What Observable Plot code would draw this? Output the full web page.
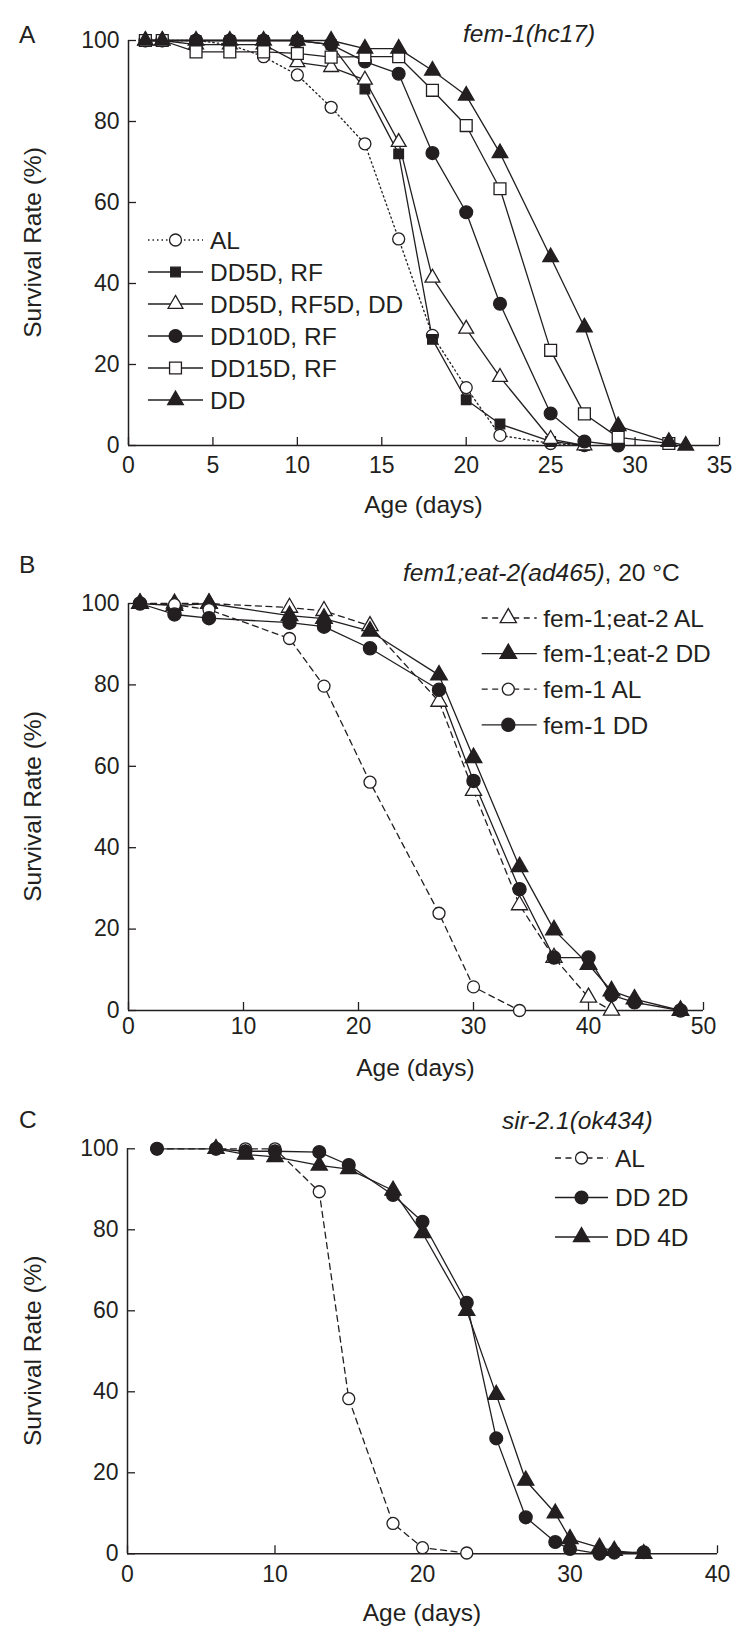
<!DOCTYPE html>
<html><head><meta charset="utf-8">
<script src="https://cdn.jsdelivr.net/npm/d3@7"></script>
<script src="https://cdn.jsdelivr.net/npm/@observablehq/plot@0.6"></script>
<style>
html,body{margin:0;padding:0;background:#fff;}
#root{position:relative;width:750px;height:1644px;overflow:hidden;background:#fff;}
#root svg{position:absolute;left:0;display:block;}
</style></head><body><div id="root"></div>
<script>
// ---------- Panel A: fem-1(hc17) ----------
const A_xTicks = [0, 5, 10, 15, 20, 25, 30, 35];
const A_AL_days = [1, 2, 4, 6, 8, 10, 12, 14, 16, 18, 20, 22, 25, 27];
const A_AL_surv = [100, 100, 100, 99, 96, 91.5, 83.5, 74.5, 51, 27.2, 14.3, 2.5, 0.5, 0];
const A_DD5RF_days = [1, 2, 4, 6, 8, 10, 12, 14, 16, 18, 20, 22, 25, 27];
const A_DD5RF_surv = [100, 100, 100, 100, 100, 100, 99, 88, 72, 26.2, 11.3, 5.3, 1, 0];
const A_DD5RF5DD_days = [1, 2, 4, 6, 8, 10, 12, 14, 16, 18, 20, 22, 25, 27];
const A_DD5RF5DD_surv = [100, 100, 99, 99, 99, 94.6, 93.4, 90.3, 74.9, 41.4, 28.8, 16.9, 1.6, 0];
const A_DD10RF_days = [1, 2, 4, 6, 8, 10, 12, 14, 16, 18, 20, 22, 25, 27, 29];
const A_DD10RF_surv = [100, 100, 100, 100, 100, 100, 99, 94.8, 91.8, 72.2, 57.6, 35, 7.9, 1, 0];
const A_DD15RF_days = [1, 2, 4, 6, 8, 10, 12, 14, 16, 18, 20, 22, 25, 27, 29, 32];
const A_DD15RF_surv = [100, 100, 97.2, 97.2, 97.2, 96.8, 95.9, 96, 96, 87.7, 79, 63.4, 23.5, 7.8, 2, 0.5];
const A_DD_days = [1, 2, 4, 6, 8, 10, 12, 14, 16, 18, 20, 22, 25, 27, 29, 32, 33];
const A_DD_surv = [100, 100, 100, 100, 100, 100, 100, 98, 98, 92.6, 86.4, 72.2, 46.5, 29.2, 4.8, 0.9, 0];

// ---------- Panel B: fem1;eat-2(ad465), 20 °C ----------
const B_xTicks = [0, 10, 20, 30, 40, 50];
const B_eat2AL_days = [1, 4, 7, 14, 17, 21, 27, 30, 34, 37, 40, 42];
const B_eat2AL_surv = [100, 100, 100, 99, 98.2, 94.5, 75.9, 54, 25.9, 13, 3.2, 0];
const B_eat2DD_days = [1, 4, 7, 14, 17, 21, 27, 30, 34, 37, 40, 42, 44, 48];
const B_eat2DD_surv = [100, 99.5, 100, 97, 96.3, 93.2, 82.4, 62.1, 35.3, 19.8, 11.3, 4.8, 2.8, 0];
const B_fem1AL_days = [1, 4, 7, 14, 17, 21, 27, 30, 34];
const B_fem1AL_surv = [100, 99.7, 98.5, 91.4, 79.7, 56.1, 23.9, 5.8, 0];
const B_fem1DD_days = [1, 4, 7, 14, 17, 21, 27, 30, 34, 37, 40, 42, 44, 48];
const B_fem1DD_surv = [100, 97.3, 96.4, 95.3, 94.3, 89, 78.8, 56.4, 29.8, 13, 13, 3.8, 2, 0];

// ---------- Panel C: sir-2.1(ok434) ----------
const C_xTicks = [0, 10, 20, 30, 40];
const C_AL_days = [2, 6, 8, 10, 13, 15, 18, 20, 23];
const C_AL_surv = [100, 100, 100, 100, 89.4, 38.3, 7.5, 1.5, 0.2];
const C_DD2_days = [2, 6, 8, 10, 13, 15, 18, 20, 23, 25, 27, 29, 30, 32, 33, 35];
const C_DD2_surv = [100, 100, 99.4, 99.4, 99.2, 96, 88.6, 82, 62, 28.5, 9, 2.9, 1.2, 0, 0.3, 0.4];
const C_DD4_days = [6, 8, 10, 13, 15, 18, 20, 23, 25, 27, 29, 30, 32, 33, 35];
const C_DD4_surv = [100, 98.6, 98, 95.9, 95, 89.7, 79.2, 60, 39.3, 18.1, 10, 3.7, 1.5, 0.8, 0];

const yTicks = [0, 20, 40, 60, 80, 100];
const xLabel = "Age (days)";
const yLabel = "Survival Rate (%)";

// ---------- styling ----------
const INK = "#231f20";
const FONT = "'Liberation Sans', Arial, Helvetica, sans-serif";
const DOTTED = "1.5,3";
const DASHED = "6,4.5";
const SYMBOLS = {circle: d3.symbolCircle, square: d3.symbolSquare, triangle: d3.symbolTriangle};

function pts(days, surv) { return days.map((d, i) => ({day: d, surv: surv[i]})); }

const panels = [
  {
    letter: "A", top: 0, height: 530, mt: 40, mb: 85, ml: 128, mr: 31, xMax: 35, xTicks: A_xTicks, tickPad: 11,
    title: [["fem-1(hc17)", true]], titleX: 463, titleY: 42, letterY: 43, ageY: 512.5,
    legend: {x1: 148, x2: 203, mx: 175.5, tx: 210, y0: 240, dy: 32},
    series: [
      {name: "AL", data: pts(A_AL_days, A_AL_surv), dash: DOTTED, symbol: "circle", fill: "white", r: 6},
      {name: "DD5D, RF", data: pts(A_DD5RF_days, A_DD5RF_surv), dash: null, symbol: "square", fill: INK, r: 5.4},
      {name: "DD5D, RF5D, DD", data: pts(A_DD5RF5DD_days, A_DD5RF5DD_surv), dash: null, symbol: "triangle", fill: "white", r: 5.5},
      {name: "DD10D, RF", data: pts(A_DD10RF_days, A_DD10RF_surv), dash: null, symbol: "circle", fill: INK, r: 6.4},
      {name: "DD15D, RF", data: pts(A_DD15RF_days, A_DD15RF_surv), dash: null, symbol: "square", fill: "white", r: 6.7},
      {name: "DD", data: pts(A_DD_days, A_DD_surv), dash: null, symbol: "triangle", fill: INK, r: 5.8}
    ]
  },
  {
    letter: "B", top: 530, height: 555, mt: 73, mb: 75, ml: 128, mr: 47, xMax: 50, xTicks: B_xTicks, tickPad: 7,
    title: [["fem1;eat-2(ad465)", true], [", 20 °C", false]], titleX: 403, titleY: 50.7, letterY: 43.4, ageY: 545.5,
    legend: {x1: 481.7, x2: 536.7, mx: 508.3, tx: 543.3, y0: 88, dy: 35.6},
    series: [
      {name: "fem-1;eat-2 AL", data: pts(B_eat2AL_days, B_eat2AL_surv), dash: DASHED, symbol: "triangle", fill: "white", r: 6},
      {name: "fem-1;eat-2 DD", data: pts(B_eat2DD_days, B_eat2DD_surv), dash: null, symbol: "triangle", fill: INK, r: 6.2},
      {name: "fem-1 AL", data: pts(B_fem1AL_days, B_fem1AL_surv), dash: DASHED, symbol: "circle", fill: "white", r: 6},
      {name: "fem-1 DD", data: pts(B_fem1DD_days, B_fem1DD_surv), dash: null, symbol: "circle", fill: INK, r: 6.6}
    ]
  },
  {
    letter: "C", top: 1085, height: 559, mt: 63.3, mb: 90.7, ml: 127, mr: 33, xMax: 40, xTicks: C_xTicks, tickPad: 12,
    title: [["sir-2.1(ok434)", true]], titleX: 502, titleY: 43.7, letterY: 43, ageY: 535.5,
    legend: {x1: 555, x2: 608, mx: 581.5, tx: 615, y0: 73, dy: 39.5},
    series: [
      {name: "AL", data: pts(C_AL_days, C_AL_surv), dash: DASHED, symbol: "circle", fill: "white", r: 6},
      {name: "DD 2D", data: pts(C_DD2_days, C_DD2_surv), dash: null, symbol: "circle", fill: INK, r: 6.4},
      {name: "DD 4D", data: pts(C_DD4_days, C_DD4_surv), dash: null, symbol: "triangle", fill: INK, r: 6}
    ]
  }
];

const root = document.getElementById("root");

for (const p of panels) {
  const plotW = 750 - p.ml - p.mr;
  const plotH = p.height - p.mt - p.mb;
  const marks = [];
  // series lines
  for (const s of p.series) {
    marks.push(Plot.line(s.data, {x: "day", y: "surv", stroke: INK, strokeWidth: 1.3,
      strokeDasharray: s.dash || undefined}));
  }
  // axes
  marks.push(Plot.axisY(yTicks, {tickSize: 0, tickPadding: 9, label: null, fontSize: 23, fill: INK}));
  marks.push(Plot.axisX(p.xTicks, {tickSize: 0, tickPadding: p.tickPad, label: null, fontSize: 23, fill: INK}));
  marks.push(Plot.tickX(p.xTicks, {x: d => d, insetTop: plotH - 8, stroke: INK, strokeWidth: 1.3}));
  marks.push(Plot.tickY(yTicks, {y: d => d, insetRight: plotW - 8, stroke: INK, strokeWidth: 1.3}));
  marks.push(Plot.ruleX([0], {stroke: INK, strokeWidth: 1.5}));
  marks.push(Plot.ruleY([0], {stroke: INK, strokeWidth: 1.5}));
  // series markers
  for (const s of p.series) {
    marks.push(Plot.dot(s.data, {x: "day", y: "surv", symbol: () => s.symbol, r: s.r,
      fill: s.fill, stroke: INK, strokeWidth: 1.3}));
  }
  const svg = Plot.plot({
    width: 750, height: p.height,
    marginTop: p.mt, marginBottom: p.mb, marginLeft: p.ml, marginRight: p.mr,
    x: {domain: [0, p.xMax]},
    y: {domain: [0, 100]},
    symbol: {type: "identity"},
    style: {fontFamily: FONT, fontSize: "23px", color: INK, background: "white", overflow: "visible"},
    marks
  });
  svg.style.top = p.top + "px";
  root.appendChild(svg);

  const g = d3.select(svg).append("g").attr("font-family", FONT).attr("fill", INK)
    .attr("text-anchor", "start");
  // panel letter
  g.append("text").attr("x", 19).attr("y", p.letterY).attr("font-size", 24.5).text(p.letter);
  // title
  const t = g.append("text").attr("x", p.titleX).attr("y", p.titleY).attr("font-size", 24.5);
  for (const [txt, it] of p.title) t.append("tspan").attr("font-style", it ? "italic" : "normal").text(txt);
  // axis titles
  g.append("text").attr("transform", `translate(41,${p.mt + plotH / 2}) rotate(-90)`)
    .attr("text-anchor", "middle").attr("font-size", 24.5).text(yLabel);
  g.append("text").attr("x", p.ml + plotW / 2).attr("y", p.ageY)
    .attr("text-anchor", "middle").attr("font-size", 24.5).text(xLabel);
  // legend
  const L = p.legend;
  p.series.forEach((s, i) => {
    const y = L.y0 + i * L.dy;
    g.append("line").attr("x1", L.x1).attr("x2", L.x2).attr("y1", y).attr("y2", y)
      .attr("stroke", INK).attr("stroke-width", 1.3).attr("stroke-dasharray", s.dash);
    g.append("path").attr("transform", `translate(${L.mx},${y})`)
      .attr("d", d3.symbol(SYMBOLS[s.symbol], Math.PI * s.r * s.r)())
      .attr("fill", s.fill).attr("stroke", INK).attr("stroke-width", 1.3);
    g.append("text").attr("x", L.tx).attr("y", y).attr("dy", "0.36em")
      .attr("font-size", 24.5).text(s.name);
  });
}
</script></body></html>
